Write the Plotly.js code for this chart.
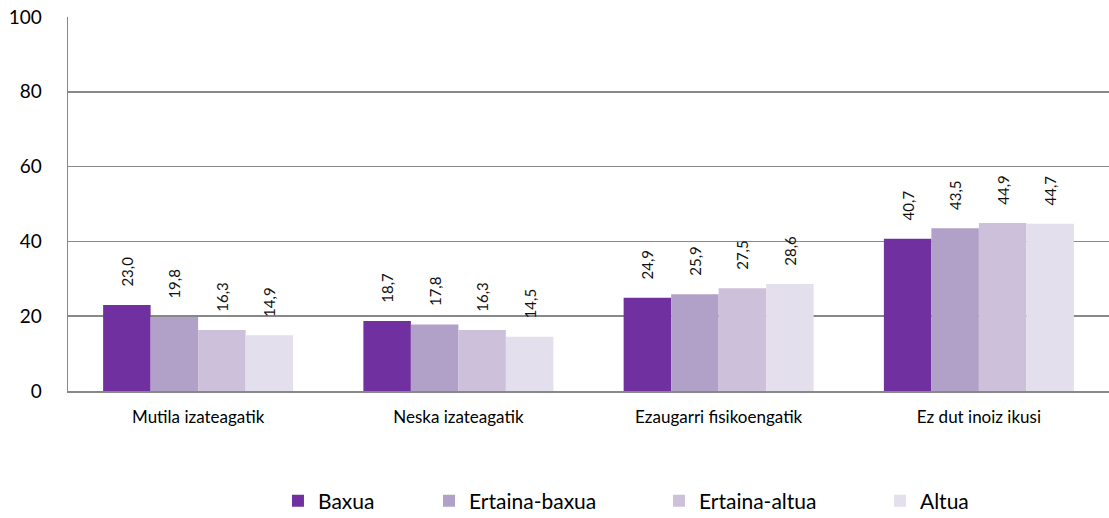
<!DOCTYPE html>
<html><head><meta charset="utf-8">
<script src="https://cdn.plot.ly/plotly-3.0.1.min.js"></script>
<style>html,body{margin:0;padding:0;background:#fff}#c{width:1109px;height:518px}</style>
</head><body><div id="c"></div>
<script>
const categories = ["Mutila izateagatik", "Neska izateagatik", "Ezaugarri fisikoengatik", "Ez dut inoiz ikusi"];
const seriesNames = ["Baxua", "Ertaina-baxua", "Ertaina-altua", "Altua"];
const baxua = [23.0, 18.7, 24.9, 40.7];
const ertainaBaxua = [19.8, 17.8, 25.9, 43.5];
const ertainaAltua = [16.3, 16.3, 27.5, 44.9];
const altua = [14.9, 14.5, 28.6, 44.7];
const colors = ["#7030A0", "#B1A0C7", "#CCC0DA", "#E4DFEC"];
const allValues = [baxua, ertainaBaxua, ertainaAltua, altua];
const legendIds = ["legend", "legend2", "legend3", "legend4"];
const legendX = [0.2017, 0.3468, 0.5677, 0.780];

const font = "Lato, 'Open Sans', sans-serif";
const traces = allValues.map((vals, i) => ({
  type: "bar",
  name: seriesNames[i],
  legend: legendIds[i],
  x: categories,
  y: vals,
  marker: {color: colors[i], line: {width: 0}},
  texttemplate: "\u00a0\u00a0\u00a0\u00a0%{y:.1f}",
  textposition: "outside",
  textangle: -90,
  constraintext: "none",
  cliponaxis: false,
  textfont: {family: font, size: 15, color: "#111"},
  hoverinfo: "skip"
}));

const layout = {
  width: 1109, height: 518,
  margin: {l: 68, r: 0, t: 17, b: 127, autoexpand: false},
  paper_bgcolor: "#fff", plot_bgcolor: "#fff",
  separators: ",.",
  barmode: "group",
  bargap: 0.27,
  bargroupgap: 0,
  font: {family: font, color: "#000"},
  xaxis: {
    type: "category",
    showgrid: false,
    showline: true, linecolor: "#888", linewidth: 1.5,
    ticks: "outside", ticklen: 10, tickcolor: "rgba(0,0,0,0)",
    tickfont: {family: font, size: 17, color: "#000"},
    fixedrange: true
  },
  yaxis: {
    range: [0, 100],
    tickvals: [0, 20, 40, 60, 80, 100],
    showgrid: true, gridcolor: "#888", gridwidth: 1.5,
    zeroline: false,
    showline: true, linecolor: "#888", linewidth: 1.5,
    ticks: "outside", ticklen: 21, tickcolor: "rgba(0,0,0,0)",
    tickfont: {family: font, size: 19, color: "#000"},
    fixedrange: true
  },
  showlegend: true
};
legendIds.forEach((id, i) => {
  layout[id] = {
    orientation: "h", x: legendX[i], xanchor: "left",
    yref: "container", y: 0.072, yanchor: "top",
    font: {family: font, size: 21, color: "#000"},
    itemwidth: 30, bgcolor: "rgba(0,0,0,0)"
  };
});

Plotly.newPlot("c", traces, layout, {displayModeBar: false, staticPlot: true});
</script></body></html>
